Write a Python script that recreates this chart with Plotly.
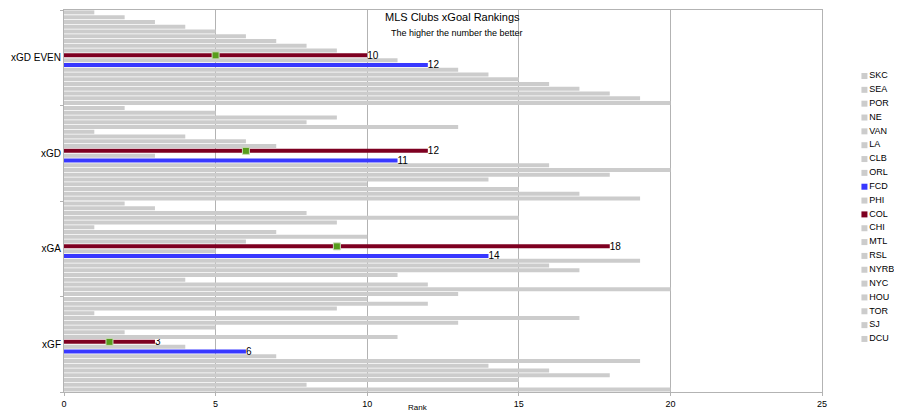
import plotly.graph_objects as go

teams = ["SKC", "SEA", "POR", "NE", "VAN", "LA", "CLB", "ORL", "FCD", "PHI",
         "COL", "CHI", "MTL", "RSL", "NYRB", "NYC", "HOU", "TOR", "SJ", "DCU"]
categories = ["xGF", "xGA", "xGD", "xGD EVEN"]

# rank values per category, in team order
xgf = [20, 8, 15, 18, 16, 14, 19, 7, 6, 4, 3, 11, 2, 5, 13, 17, 1, 9, 12, 10]
xga = [13, 20, 12, 4, 11, 17, 16, 19, 14, 5, 18, 6, 10, 7, 1, 9, 15, 8, 3, 2]
xgd = [19, 17, 15, 10, 14, 18, 20, 16, 11, 3, 12, 7, 6, 4, 1, 13, 8, 9, 5, 2]
xgd_even = [20, 19, 18, 17, 16, 15, 14, 13, 12, 11, 10, 9, 8, 7, 6, 5, 4, 3, 2, 1]

x_ticks = [0, 5, 10, 15, 20, 25]

GRAY = "#cccccc"
highlight = {"FCD": "#3838ff", "COL": "#7e0021"}
MID_COLOR = "#579d1c"
FONT = "Liberation Sans"

series = [xgf, xga, xgd, xgd_even]
n = len(teams)

# the page body adds an 8px offset; compensate so the figure lands at the window origin
OFF = 8
W, H = 902 - OFF, 413 - OFF


def px(v):
    return v - OFF


fig = go.Figure()

for k, team in enumerate(teams):
    vals = [s[k] for s in series]
    color = highlight.get(team, GRAY)
    is_hi = team in highlight
    fig.add_trace(go.Bar(
        y=categories, x=vals, orientation="h", name=team,
        marker=dict(color=color, line=dict(width=0)),
        text=[str(v) for v in vals] if is_hi else None,
        textposition="outside" if is_hi else "none",
        textfont=dict(family=FONT, size=10, color="#000000"),
        constraintext="none", cliponaxis=False,
        showlegend=False, hoverinfo="x+name",
    ))

# midpoint markers on the COL bars (overlay numeric axis aligned with the category axis)
col_k = teams.index("COL")
col_vals = [s[col_k] for s in series]
mid_x = [v / 2 for v in col_vals]
mid_y = [ci - 0.5 + (col_k + 0.5) / n for ci in range(len(categories))]
fig.add_trace(go.Scatter(
    x=mid_x, y=mid_y, xaxis="x", yaxis="y2", mode="markers",
    marker=dict(symbol="square", size=7, color=MID_COLOR,
                line=dict(color="#c8dcb8", width=1)),
    showlegend=False, hoverinfo="skip",
))

PLOT_TOP, PLOT_BOT = px(10), px(392)
plot_h = PLOT_BOT - PLOT_TOP

# custom compact legend
L_TOP_PX, L_STEP_PX = px(76), 13.84
y_top = -(L_TOP_PX - PLOT_TOP) / L_STEP_PX
y_bot = (PLOT_BOT - L_TOP_PX) / L_STEP_PX
fig.add_trace(go.Scatter(
    x=[4] * n, y=list(range(n)), xaxis="x3", yaxis="y3",
    mode="markers+text", text=teams, textposition="middle right",
    textfont=dict(family=FONT, size=9, color="#000000"),
    marker=dict(symbol="square", size=6,
                color=[highlight.get(t, GRAY) for t in teams]),
    showlegend=False, hoverinfo="skip", cliponaxis=False,
))

LM, RM = px(64), 2
paper_w = W - LM - RM
main_end = (px(822) - LM) / paper_w
leg_start = (px(860) - LM) / paper_w

fig.update_layout(
    width=W, height=H,
    margin=dict(l=LM, r=RM, t=PLOT_TOP, b=H - PLOT_BOT, autoexpand=False),
    paper_bgcolor="white", plot_bgcolor="white",
    barmode="group", bargap=0, bargroupgap=0.16,
    font=dict(family=FONT, size=10, color="#000000"),
    showlegend=False,
    xaxis=dict(domain=[0, main_end], range=[0, 25], tickvals=x_ticks,
               showgrid=True, gridcolor="#b3b3b3", gridwidth=1,
               showline=True, linecolor="#b3b3b3", mirror=True,
               ticks="outside", ticklen=3, tickcolor="#b3b3b3",
               tickfont=dict(size=9), zeroline=False, automargin=False),
    yaxis=dict(type="category", categoryorder="array", categoryarray=categories,
               range=[-0.5, 3.5], showgrid=False, showline=True,
               linecolor="#b3b3b3", mirror=True, ticks="outside",
               tickson="boundaries", ticklen=3, tickcolor="#b3b3b3",
               tickfont=dict(size=10), zeroline=False, automargin=False),
    yaxis2=dict(overlaying="y", range=[-0.5, 3.5], visible=False, anchor="x",
                automargin=False),
    xaxis3=dict(domain=[leg_start, 1], range=[0, 36], visible=False, anchor="y3",
                automargin=False),
    yaxis3=dict(domain=[0, 1], range=[y_bot, y_top], visible=False, anchor="x3",
                automargin=False),
    annotations=[
        dict(text="MLS Clubs xGoal Rankings", xref="paper", yref="paper",
             x=(px(452) - LM) / paper_w, y=(PLOT_BOT - px(17)) / plot_h,
             xanchor="center", yanchor="middle", showarrow=False,
             font=dict(family=FONT, size=11, color="#000000")),
        dict(text="The higher the number the better", xref="paper", yref="paper",
             x=(px(457) - LM) / paper_w, y=(PLOT_BOT - px(33)) / plot_h,
             xanchor="center", yanchor="middle", showarrow=False,
             font=dict(family=FONT, size=9, color="#000000")),
        dict(text="Rank", xref="paper", yref="paper",
             x=(px(418) - LM) / paper_w, y=-(px(407) - PLOT_BOT) / plot_h,
             xanchor="center", yanchor="middle", showarrow=False,
             font=dict(family=FONT, size=8, color="#000000")),
    ],
)

fig.write_html("out.html")
